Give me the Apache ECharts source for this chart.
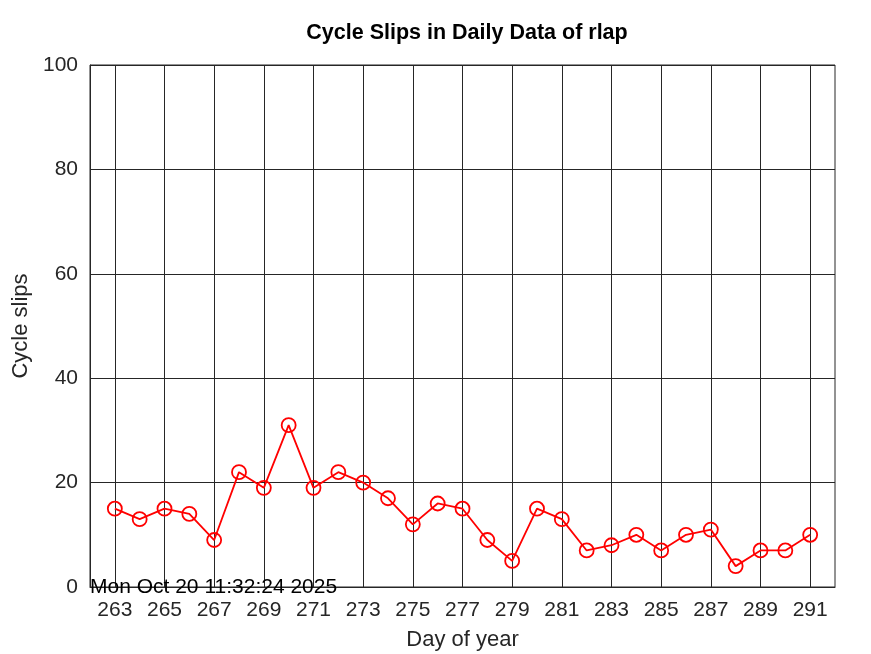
<!DOCTYPE html>
<html><head><meta charset="utf-8">
<script src="https://cdn.jsdelivr.net/npm/echarts@6/dist/echarts.min.js"></script>
<style>html,body{margin:0;padding:0;background:#fff}#c{width:871px;height:654px}</style>
</head><body><div id="c"></div>
<script>
const days = [263,264,265,266,267,268,269,270,271,272,273,274,275,276,277,278,279,280,281,282,283,284,285,286,287,288,289,290,291];
const slips = [15,13,15,14,9,22,19,31,19,22,20,17,12,16,15,9,5,15,13,7,8,10,7,10,11,4,7,7,10];
const gridDays = [263,265,267,269,271,273,275,277,279,281,283,285,287,289,291];
const titleText = 'Cycle Slips in Daily Data of rlap';
const xName = 'Day of year';
const yName = 'Cycle slips';
const stamp = 'Mon Oct 20 11:32:24 2025';

const font = 'Liberation Sans, Arial, Helvetica, sans-serif';
const chart = echarts.init(document.getElementById('c'), null, {renderer:'canvas'});
chart.setOption({
  animation:false,
  backgroundColor:'#fff',
  title:{text:titleText,left:462,top:17,textAlign:'center',
    textStyle:{fontFamily:font,fontSize:21.5,fontWeight:'bold',color:'#000'}},
  grid:{left:90,right:36,top:65,bottom:67,containLabel:false,outerBoundsMode:'none',
    show:true,borderColor:'#262626',borderWidth:1,backgroundColor:'transparent'},
  xAxis:{type:'value',min:262,max:292,interval:1,
    name:xName,nameLocation:'middle',nameGap:42,
    nameTextStyle:{fontFamily:font,fontSize:22,color:'#262626'},
    axisLine:{show:true,lineStyle:{color:'#262626'}},
    axisTick:{show:false},
    splitLine:{show:false},
    axisLabel:{fontFamily:font,fontSize:21,color:'#262626',margin:13,
      formatter:v=>gridDays.indexOf(v)>=0?String(v):''}},
  yAxis:{type:'value',min:0,max:100,interval:20,
    name:yName,nameLocation:'middle',nameGap:58,
    nameTextStyle:{fontFamily:font,fontSize:22,color:'#262626'},
    axisLine:{show:true,lineStyle:{color:'#262626'}},
    axisTick:{show:false},
    splitLine:{show:true,lineStyle:{color:'#262626',width:1}},
    axisLabel:{fontFamily:font,fontSize:21,color:'#262626',margin:12}},
  graphic:[{type:'text',left:90,top:577,z:100,
    style:{text:stamp,fontFamily:font,fontSize:21,fill:'#000'}}],
  series:[{type:'line',data:days.map((d,i)=>[d,slips[i]]),
    symbol:'circle',symbolSize:14,showAllSymbol:true,
    lineStyle:{color:'#ff0000',width:1.8},
    itemStyle:{color:'rgba(0,0,0,0)',borderColor:'#ff0000',borderWidth:1.8},
    emphasis:{disabled:true},
    z:3,
    markLine:{silent:true,symbol:'none',label:{show:false},z:1,
      lineStyle:{color:'#262626',width:1,type:'solid'},
      data:gridDays.map(d=>({xAxis:d}))}
  }]
});
</script></body></html>
